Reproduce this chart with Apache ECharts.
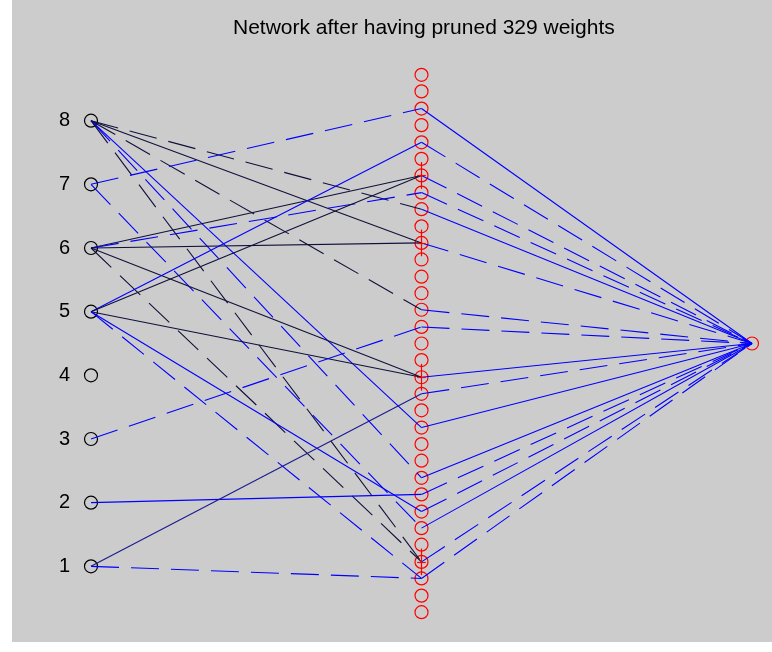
<!DOCTYPE html>
<html><head><meta charset="utf-8">
<script src="https://cdn.jsdelivr.net/npm/echarts@6/dist/echarts.min.js"></script>
<style>html,body{margin:0;padding:0;background:#ffffff}#c{width:772px;height:652px}</style>
</head><body><div id="c"></div>
<script>
// ---- data ----
const titleText = 'Network after having pruned 329 weights';
const inputLabels = ['1','2','3','4','5','6','7','8'];
const inputY = [1,2,3,4,5,6,7,8];
// hidden units, listed from the top (index 0) to the bottom (index 32)
const hiddenY = [8.72,8.46,8.19,7.93,7.66,7.40,7.14,6.87,6.61,6.34,6.08,5.82,5.55,5.29,5.03,4.76,4.50,
                 4.24,3.97,3.71,3.45,3.18,2.92,2.66,2.39,2.13,1.86,1.60,1.34,1.07,0.81,0.54,0.28];
const outputY = 4.5;
const layerX = [1, 2, 3];   // input, hidden, output columns
// input -> hidden weights that survived pruning
const ihFrom  = [8,8,8,8,8,8, 7,7, 6,6,6,6,6, 5,5,5,5,5, 3, 2, 1,1];
const ihTo    = [8,10,14,21,24,29, 2,27, 6,7,10,18,29, 4,6,18,26,30, 15, 25, 19,30];
const ihSign  = ['-','+','-','+','-','-', '-','-', '+','-','+','+','-', '+','+','+','+','-', '-', '+', '+','-'];
const ihShade = ['d','d','d','b','b','d', 'b','b', 'd','b','d','d','d', 'b','d','d','b','b', 'b', 'b', 'm','b'];
// hidden -> output weights that survived pruning
const hoFrom  = [2,4,6,7,8,10,14,15,18,19,21,24,25,26,27,29,30];
const hoSign  = ['+','-','-','-','+','-','-','-','+','-','+','+','-','-','+','-','-'];
// hidden units marked with a red "+"
const markedHidden = [6,10,18,29];

// ---- styles ----
const shadeColor = {b:'#0000ff', d:'#10103c', m:'#1a1a90'};
const dash = [28,12];

const ihData = ihFrom.map((f,i)=>({
  coords:[[layerX[0], inputY[f-1]],[layerX[1], hiddenY[ihTo[i]]]],
  lineStyle:{color:shadeColor[ihShade[i]], width:1.1, opacity:1, type: ihSign[i]==='+' ? 'solid' : dash}
}));
const hoData = hoFrom.map((h,i)=>({
  coords:[[layerX[1], hiddenY[h]],[layerX[2], outputY]],
  lineStyle:{color:'#0000ff', width:1.1, opacity:1, type: hoSign[i]==='+' ? 'solid' : dash}
}));
const plusData = [];
markedHidden.forEach(h=>{
  plusData.push({coords:[[layerX[1], hiddenY[h]+0.21],[layerX[1], hiddenY[h]-0.21]]});
  plusData.push({coords:[[layerX[1]-0.013, hiddenY[h]],[layerX[1]+0.013, hiddenY[h]]]});
});

const chart = echarts.init(document.getElementById('c'), null, {renderer:'canvas'});
chart.setOption({
  backgroundColor:'#ffffff',
  animation:false,
  title:{text:titleText, left:228, top:13,
    textStyle:{fontFamily:'Liberation Sans, Arial, sans-serif', fontSize:21, fontWeight:'normal', color:'#000'}},
  graphic:[{type:'rect', silent:true, z:-10, shape:{x:12,y:0,width:760,height:642}, style:{fill:'#cccccc'}}],
  grid:{left:91, right:20, top:57, bottom:22, containLabel:false},
  xAxis:{type:'value', min:1, max:3, show:false},
  yAxis:{type:'value', min:0, max:9, interval:1,
    axisLine:{show:false}, axisTick:{show:false}, splitLine:{show:false},
    axisLabel:{margin:21, fontSize:20, color:'#000', fontFamily:'Liberation Sans, Arial, sans-serif',
      formatter:v=>{ const i = inputY.indexOf(v); return i>=0 ? inputLabels[i] : ''; }}},
  series:[
    {type:'scatter', z:2, silent:true, symbol:'circle', symbolSize:13,
      itemStyle:{color:'rgba(0,0,0,0)', borderColor:'#000000', borderWidth:1.2, opacity:1},
      data: inputY.map(y=>[layerX[0], y])},
    {type:'scatter', z:2, silent:true, symbol:'circle', symbolSize:13,
      itemStyle:{color:'rgba(0,0,0,0)', borderColor:'#ff0000', borderWidth:1.2, opacity:1},
      data: hiddenY.map(y=>[layerX[1], y]).concat([[layerX[2], outputY]])},
    {type:'lines', coordinateSystem:'cartesian2d', z:3, silent:true, clip:false,
      lineStyle:{opacity:1}, data: ihData},
    {type:'lines', coordinateSystem:'cartesian2d', z:3, silent:true, clip:false,
      lineStyle:{opacity:1}, data: hoData},
    {type:'lines', coordinateSystem:'cartesian2d', z:4, silent:true, clip:false,
      lineStyle:{color:'#ff0000', width:1.2, type:'solid', opacity:1}, data: plusData}
  ]
});
</script></body></html>
